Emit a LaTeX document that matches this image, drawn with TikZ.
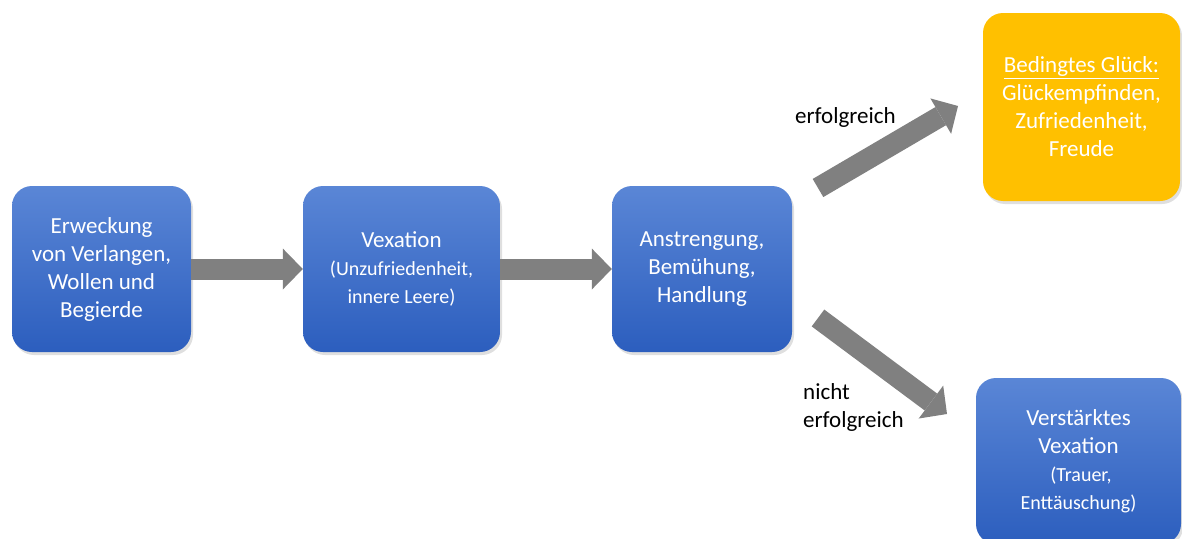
\documentclass[tikz,border=0pt]{standalone}
\usepackage{fontspec}
\setmainfont{Carlito}
\usetikzlibrary{arrows.meta,shadows}
\definecolor{blueTop}{RGB}{90,134,214}
\definecolor{blueBot}{RGB}{44,94,190}
\definecolor{gold}{RGB}{255,192,0}
\definecolor{arrowgray}{RGB}{128,128,128}
\newcommand\smalltxt{\fontsize{20}{25}\selectfont}
\begin{document}
\begin{tikzpicture}[x=1pt,y=-1pt,
 boxbase/.style={rounded corners=20pt, text=white, align=center, inner sep=0pt,
   font=\fontsize{23}{28}\selectfont,
   drop shadow={opacity=0.25, shadow xshift=2pt, shadow yshift=-3pt}},
 bluebox/.style={boxbase, top color=blueTop, bottom color=blueBot},
 goldbox/.style={boxbase, fill=gold},
 blockarrow/.style={draw=arrowgray, line width=21pt,
   -{Triangle[length=20pt 0 0,width=41pt 0 0,line width=0pt]}},
 lbl/.style={font=\fontsize{23}{28}\selectfont, text=black, align=left, inner sep=0pt}
]
\useasboundingbox (0,0) rectangle (1182,538);
\fill[white] (0,0) rectangle (1182,538);

\node[bluebox, minimum width=179pt, minimum height=166pt] (b1) at (101.5,269)
  {Erweckung\\von Verlangen,\\Wollen und\\Begierde};
\node[bluebox, minimum width=197pt, minimum height=166pt] (b2) at (401.5,269)
  {Vexation\\{\smalltxt(Unzufriedenheit,}\\{\smalltxt innere Leere)}};
\node[bluebox, minimum width=180pt, minimum height=166pt] (b3) at (702,269)
  {Anstrengung,\\Bemühung,\\Handlung};
\node[goldbox, minimum width=197pt, minimum height=188pt] (b4) at (1081.5,107)
  {\underline{Bedingtes Glück:}\\Glückempfinden,\\Zufriedenheit,\\Freude};
\node[bluebox, minimum width=205pt, minimum height=166pt] (b5) at (1078.5,461)
  {Verstärktes\\Vexation\\{\smalltxt\hspace{5pt}(Trauer,}\\{\smalltxt Enttäuschung)}};

\coordinate (u0) at (818,188);
\coordinate (u1) at (958,106);
\coordinate (d0) at (818,318);
\coordinate (d1) at (947,414);

\draw[blockarrow] (b1.east) -- (b2.west);
\draw[blockarrow] (b2.east) -- (b3.west);
\draw[blockarrow] (u0) -- (u1);
\draw[blockarrow] (d0) -- (d1);

\node[lbl, anchor=base west] (l1) at (795,123) {erfolgreich};
\node[lbl, anchor=west] (l2) at (803,407) {nicht\\erfolgreich};
\end{tikzpicture}
\end{document}
